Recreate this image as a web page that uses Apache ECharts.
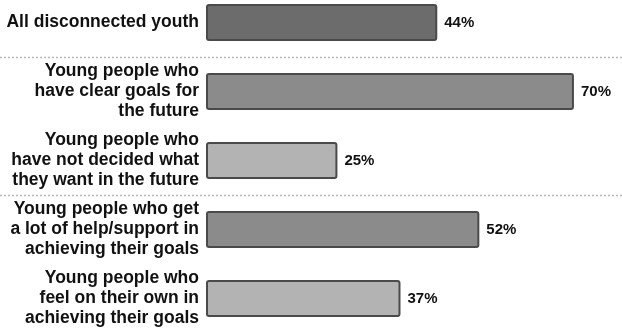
<!DOCTYPE html>
<html>
<head>
<meta charset="utf-8">
<title>Disconnected youth</title>
<script src="https://cdn.jsdelivr.net/npm/echarts@6/dist/echarts.min.js"></script>
<style>
  html, body { margin: 0; padding: 0; background: #fff; }
  #chart { width: 622px; height: 331px; }
</style>
</head>
<body>
<div id="chart"></div>
<script>
  var categories = [
    'All disconnected youth',
    'Young people who\nhave clear goals for\nthe future',
    'Young people who\nhave not decided what\nthey want in the future',
    'Young people who get\na lot of help/support in\nachieving their goals',
    'Young people who\nfeel on their own in\nachieving their goals'
  ];
  var values = [44, 70, 25, 52, 37];
  // boundaries after these category indexes get a dotted separator
  var groupEnds = [0, 2];

  var barColors = ['#6c6c6c', '#8b8b8b', '#b3b3b3', '#8b8b8b', '#b3b3b3'];

  var myChart = echarts.init(document.getElementById('chart'));
  var option = {
    backgroundColor: '#ffffff',
    animation: false,
    grid: {
      left: 206, right: 6, top: -12, bottom: -2,
      containLabel: false, outerBoundsMode: 'none'
    },
    xAxis: {
      type: 'value', min: 0, max: 78, show: false
    },
    yAxis: {
      type: 'category',
      data: categories,
      inverse: true,
      axisLine: { show: false },
      axisTick: { show: false },
      splitLine: { show: false },
      axisLabel: {
        margin: 7,
        align: 'right',
        color: '#111',
        fontFamily: 'Liberation Sans',
        fontWeight: 'bold',
        fontSize: 17.5,
        lineHeight: 20
      }
    },
    series: [{
      type: 'bar',
      barWidth: 37,
      data: values.map(function (v, i) {
        return { value: v, itemStyle: { color: barColors[i] } };
      }),
      itemStyle: { borderColor: '#4a4a4a', borderWidth: 2, borderRadius: 2 },
      label: {
        show: true,
        position: 'right',
        distance: 7,
        formatter: '{c}%',
        color: '#111',
        fontFamily: 'Liberation Sans',
        fontWeight: 'bold',
        fontSize: 15
      }
    }]
  };
  myChart.setOption(option);

  // dotted separators across the full width, placed from the category scale
  var lines = groupEnds.map(function (i) {
    var y0 = myChart.convertToPixel({ yAxisIndex: 0 }, i);
    var y1 = myChart.convertToPixel({ yAxisIndex: 0 }, i + 1);
    var y = Math.round((y0 + y1) / 2) + 0.5;
    return {
      type: 'line',
      shape: { x1: 0, y1: y, x2: 622, y2: y },
      style: { stroke: '#b8b8b8', lineWidth: 1.5, lineDash: [2, 2] },
      silent: true
    };
  });
  myChart.setOption({ graphic: lines });
</script>
</body>
</html>
